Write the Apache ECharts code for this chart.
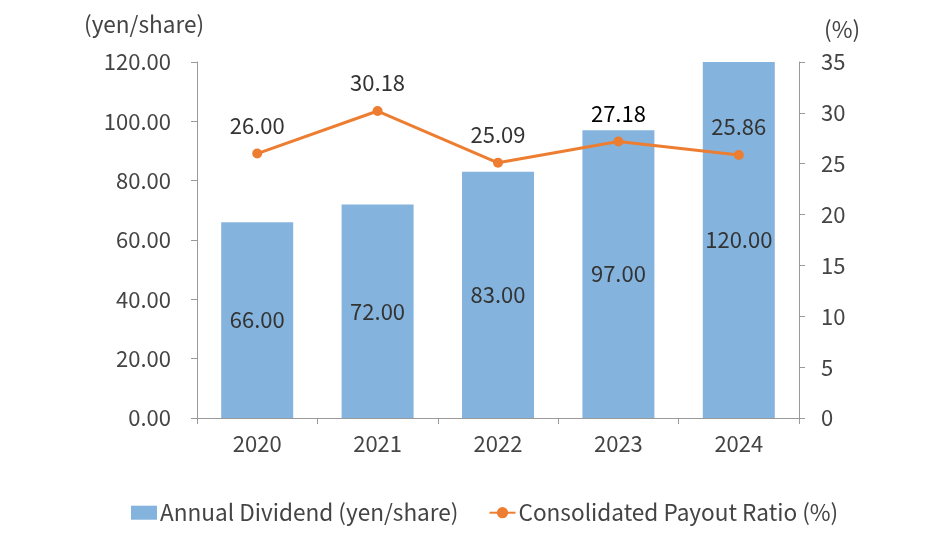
<!DOCTYPE html>
<html><head><meta charset="utf-8">
<script src="https://cdn.jsdelivr.net/npm/echarts@6/dist/echarts.min.js"></script>
<style>html,body{margin:0;padding:0;background:#fff}#c{width:941px;height:541px}</style>
</head><body><div id="c"></div>
<script>
const categories = ['2020','2021','2022','2023','2024'];
const dividend = [66.00, 72.00, 83.00, 97.00, 120.00];
const payout = [26.00, 30.18, 25.09, 27.18, 25.86];
const leftTicks = [0, 20, 40, 60, 80, 100, 120];
const rightTicks = [0, 5, 10, 15, 20, 25, 30, 35];

const FONT = '"Noto Sans CJK JP","Noto Sans",sans-serif';
const chart = echarts.init(document.getElementById('c'));
const payoutData = payout.map((v, i) => i === 3 ? {value: v, label: {color: '#000'}} : v);
chart.setOption({
  animation: false,
  textStyle: {fontFamily: FONT},
  grid: {left: 197, right: 142, top: 62, bottom: 123},
  legend: {
    bottom: 12, left: 126, itemGap: 30,
    itemWidth: 26, itemHeight: 14,
    textStyle: {fontFamily: FONT, fontSize: 22.6, color: '#444', padding: [0, 0, 0, -2]},
    data: [
      {name: 'Annual Dividend (yen/share)', icon: 'rect'},
      {name: 'Consolidated Payout Ratio (%)'}
    ]
  },
  graphic: [
    {type: 'text', left: 84, top: 13, style: {text: '(yen/share)', font: '22.6px ' + FONT, fill: '#444'}},
    {type: 'text', left: 824, top: 18, style: {text: '(%)', font: '22.6px ' + FONT, fill: '#444'}}
  ],
  xAxis: {
    type: 'category', data: categories,
    axisLine: {lineStyle: {color: '#9a9a9a'}},
    axisTick: {show: true, length: 6, lineStyle: {color: '#9a9a9a'}},
    axisLabel: {fontSize: 22, color: '#444', margin: 15, fontFamily: FONT}
  },
  yAxis: [
    {
      type: 'value', min: leftTicks[0], max: leftTicks[leftTicks.length-1], interval: 20,
      axisLine: {show: true, lineStyle: {color: '#9a9a9a'}},
      axisTick: {show: true, length: 6, lineStyle: {color: '#9a9a9a'}},
      splitLine: {show: false},
      axisLabel: {fontSize: 22, color: '#444', margin: 26, fontFamily: FONT,
        formatter: v => v.toFixed(2)}
    },
    {
      type: 'value', min: rightTicks[0], max: rightTicks[rightTicks.length-1], interval: 5,
      axisLine: {show: true, lineStyle: {color: '#9a9a9a'}},
      axisTick: {show: true, length: 6, lineStyle: {color: '#9a9a9a'}},
      splitLine: {show: false},
      axisLabel: {fontSize: 22, color: '#444', margin: 22, fontFamily: FONT}
    }
  ],
  series: [
    {
      name: 'Annual Dividend (yen/share)', type: 'bar', data: dividend, yAxisIndex: 0,
      barWidth: 72,
      itemStyle: {color: '#84b4dd'},
      label: {show: true, position: 'inside', fontSize: 22, color: '#333', fontFamily: FONT,
        formatter: p => p.value.toFixed(2)}
    },
    {
      name: 'Consolidated Payout Ratio (%)', type: 'line', data: payoutData, yAxisIndex: 1,
      symbol: 'circle', symbolSize: 10,
      lineStyle: {color: '#ed7d31', width: 3},
      itemStyle: {color: '#ed7d31'},
      label: {show: true, position: 'top', distance: 12, fontSize: 22, color: '#333', fontFamily: FONT,
        formatter: p => p.value.toFixed(2)}
    }
  ]
});
</script></body></html>
